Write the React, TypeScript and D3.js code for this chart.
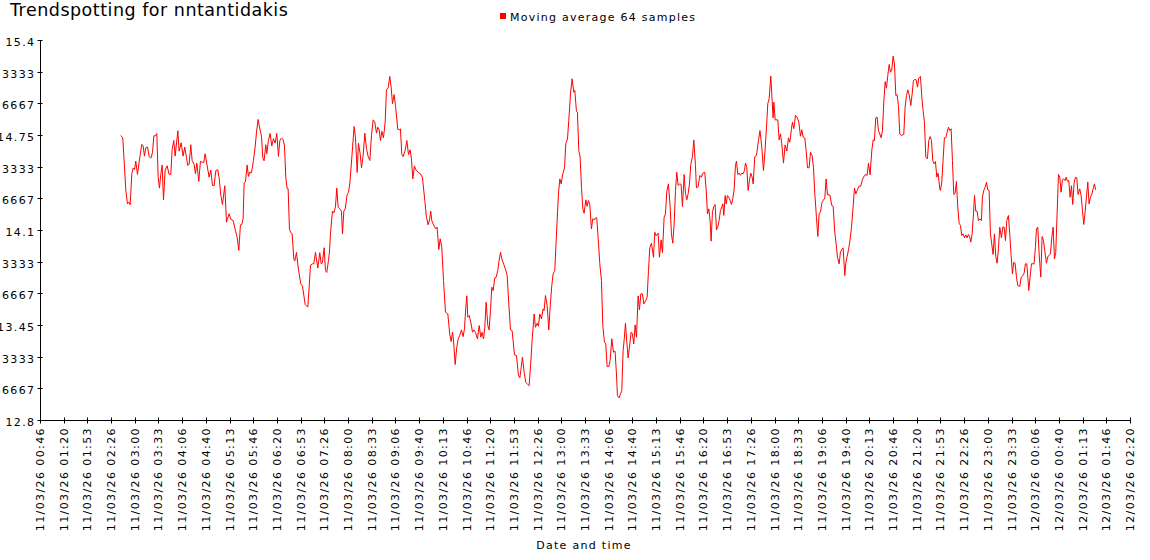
import React from "react";
import * as d3 from "d3";

const TITLE = "Trendspotting for nntantidakis";
const SERIES_NAME = "Moving average 64 samples";
const X_TITLE = "Date and time";

// x axis: minutes since 11/03/26 00:00
const X_START = 46.7;
const X_END = 1580.8;
const xTickLabels = [
  "11/03/26 00:46", "11/03/26 01:20", "11/03/26 01:53", "11/03/26 02:26", "11/03/26 03:00",
  "11/03/26 03:33", "11/03/26 04:06", "11/03/26 04:40", "11/03/26 05:13", "11/03/26 05:46",
  "11/03/26 06:20", "11/03/26 06:53", "11/03/26 07:26", "11/03/26 08:00", "11/03/26 08:33",
  "11/03/26 09:06", "11/03/26 09:40", "11/03/26 10:13", "11/03/26 10:46", "11/03/26 11:20",
  "11/03/26 11:53", "11/03/26 12:26", "11/03/26 13:00", "11/03/26 13:33", "11/03/26 14:06",
  "11/03/26 14:40", "11/03/26 15:13", "11/03/26 15:46", "11/03/26 16:20", "11/03/26 16:53",
  "11/03/26 17:26", "11/03/26 18:00", "11/03/26 18:33", "11/03/26 19:06", "11/03/26 19:40",
  "11/03/26 20:13", "11/03/26 20:46", "11/03/26 21:20", "11/03/26 21:53", "11/03/26 22:26",
  "11/03/26 23:00", "11/03/26 23:33", "12/03/26 00:06", "12/03/26 00:40", "12/03/26 01:13",
  "12/03/26 01:46", "12/03/26 02:20",
];

const Y_MIN = 12.8;
const Y_MAX = 15.4;
const yTickValues = [
  12.8, 13.0166667, 13.2333333, 13.45, 13.6666667, 13.8833333, 14.1,
  14.3166667, 14.5333333, 14.75, 14.9666667, 15.1833333, 15.4,
];
const yTickLabels = [
  "12.8", "13.016666666667", "13.233333333333", "13.45", "13.666666666667",
  "13.883333333333", "14.1", "14.316666666667", "14.533333333333", "14.75",
  "14.966666666667", "15.183333333333", "15.4",
];

// [minutes since 11/03/26 00:00, moving average value]
const samples: [number, number][] = [
  [159.7, 14.750], [162.5, 14.734], [166.8, 14.374], [169.1, 14.283], [171.0, 14.294], [172.9, 14.276],
  [175.2, 14.488], [177.1, 14.527], [179.0, 14.516], [180.8, 14.575], [183.2, 14.484], [185.5, 14.568],
  [189.3, 14.689], [191.2, 14.678], [193.0, 14.609], [194.9, 14.666], [197.3, 14.671], [199.6, 14.607],
  [202.0, 14.595], [204.3, 14.632], [206.2, 14.748], [208.5, 14.748], [210.4, 14.764], [212.3, 14.465],
  [214.1, 14.390], [216.0, 14.484], [217.9, 14.548], [219.8, 14.310], [222.1, 14.511], [224.9, 14.543],
  [227.7, 14.484], [230.1, 14.484], [232.0, 14.655], [234.3, 14.716], [236.2, 14.609], [240.0, 14.782],
  [241.8, 14.643], [244.6, 14.700], [247.4, 14.609], [249.8, 14.671], [252.1, 14.598], [254.0, 14.545],
  [255.9, 14.554], [258.2, 14.687], [260.1, 14.579], [262.9, 14.552], [264.8, 14.488], [266.7, 14.561],
  [269.5, 14.436], [271.8, 14.573], [274.7, 14.566], [276.5, 14.566], [278.4, 14.625], [281.2, 14.545],
  [284.0, 14.465], [286.4, 14.513], [288.7, 14.408], [291.1, 14.408], [293.4, 14.509], [296.2, 14.516],
  [298.1, 14.461], [300.5, 14.340], [302.8, 14.278], [306.1, 14.406], [308.4, 14.157], [312.2, 14.215],
  [314.5, 14.176], [317.8, 14.169], [321.1, 14.100], [323.4, 14.055], [325.8, 13.964], [328.1, 14.139],
  [330.0, 14.141], [331.9, 14.183], [333.3, 14.427], [335.2, 14.433], [337.5, 14.548], [339.4, 14.470],
  [341.3, 14.500], [343.6, 14.495], [346.4, 14.579], [348.8, 14.671], [350.7, 14.773], [353.0, 14.860],
  [354.9, 14.808], [357.7, 14.744], [359.6, 14.598], [361.4, 14.577], [363.8, 14.687], [365.2, 14.625],
  [367.5, 14.716], [369.9, 14.764], [372.2, 14.678], [374.6, 14.728], [376.9, 14.698], [379.3, 14.764],
  [381.6, 14.607], [383.5, 14.716], [385.8, 14.732], [388.2, 14.723], [390.1, 14.678], [391.9, 14.465],
  [393.8, 14.386], [395.2, 14.386], [397.1, 14.107], [399.0, 14.085], [400.9, 14.078], [403.2, 13.904],
  [404.6, 13.891], [407.0, 13.950], [409.3, 13.850], [413.0, 13.735], [415.4, 13.720], [419.2, 13.594],
  [422.9, 13.576], [424.8, 13.713], [426.7, 13.863], [429.5, 13.872], [431.4, 13.872], [433.7, 13.950],
  [437.0, 13.843], [439.8, 13.948], [441.7, 13.872], [443.5, 13.879], [445.9, 13.982], [447.8, 13.827],
  [449.6, 13.813], [452.0, 13.895], [453.4, 13.952], [454.8, 14.078], [457.6, 14.233], [459.5, 14.221],
  [461.8, 14.260], [463.7, 14.390], [465.6, 14.260], [467.9, 14.249],
  [470.3, 14.232], [471.7, 14.077], [473.6, 14.232], [475.5, 14.248], [478.3, 14.346], [480.2, 14.362],
  [482.0, 14.419], [484.9, 14.602], [488.1, 14.811], [490.0, 14.738], [492.4, 14.497], [494.2, 14.697],
  [496.6, 14.624], [498.5, 14.529], [500.8, 14.613], [503.2, 14.766], [505.5, 14.659], [507.8, 14.608],
  [510.2, 14.579], [512.5, 14.750], [514.9, 14.857], [517.2, 14.841], [519.6, 14.766], [521.4, 14.807],
  [523.3, 14.791], [525.2, 14.716], [527.1, 14.779], [529.4, 14.734], [531.8, 14.841], [533.6, 15.062],
  [536.0, 15.076], [538.3, 15.154], [540.2, 15.081], [542.1, 14.967], [544.4, 15.030], [546.3, 14.955],
  [549.6, 14.791], [551.9, 14.789], [553.3, 14.795], [555.2, 14.620], [557.1, 14.606], [559.9, 14.647],
  [562.3, 14.716], [564.6, 14.620], [566.9, 14.652], [568.8, 14.590], [570.7, 14.453], [573.0, 14.542],
  [574.9, 14.515], [578.2, 14.499], [581.5, 14.487], [584.3, 14.460], [587.6, 14.305], [589.9, 14.191],
  [592.3, 14.139], [594.2, 14.173], [596.0, 14.232], [597.4, 14.168], [600.3, 14.134], [603.1, 14.111],
  [604.9, 14.123], [607.3, 13.970], [609.2, 14.043], [611.5, 13.986], [613.9, 13.758], [616.7, 13.541],
  [620.0, 13.529], [622.8, 13.386], [624.7, 13.340], [626.5, 13.404], [627.9, 13.358], [630.3, 13.183],
  [632.6, 13.301], [634.5, 13.358], [636.8, 13.383], [639.2, 13.420], [641.5, 13.374], [643.4, 13.427],
  [645.3, 13.575], [646.7, 13.653], [648.1, 13.507], [650.0, 13.518], [652.8, 13.461], [654.7, 13.404],
  [656.6, 13.420], [658.9, 13.404], [661.7, 13.358], [664.1, 13.450], [666.4, 13.370], [668.3, 13.404],
  [670.2, 13.358], [672.0, 13.438], [673.9, 13.609], [676.3, 13.450], [678.1, 13.420], [680.0, 13.552],
  [681.9, 13.712], [683.8, 13.689], [686.1, 13.776], [688.0, 13.780], [690.3, 13.826], [692.2, 13.894],
  [694.1, 13.951], [696.4, 13.899], [698.8, 13.867], [701.6, 13.826], [703.5, 13.792], [705.8, 13.598],
  [708.2, 13.420], [710.5, 13.415], [713.8, 13.249], [716.6, 13.244], [719.4, 13.108], [721.3, 13.092],
  [722.7, 13.142], [725.0, 13.233], [727.4, 13.130], [729.7, 13.062], [732.5, 13.046], [734.4, 13.039],
  [736.3, 13.165], [738.6, 13.347], [741.5, 13.529], [743.3, 13.438], [745.7, 13.466], [747.5, 13.445],
  [749.4, 13.529], [751.8, 13.495], [754.1, 13.564], [755.5, 13.552], [757.4, 13.655], [759.8, 13.587],
  [762.1, 13.420], [764.0, 13.575], [766.3, 13.723], [768.2, 13.803], [770.5, 13.826], [772.9, 14.077],
  [775.7, 14.351], [777.6, 14.453], [779.5, 14.419], [781.8, 14.488], [784.2, 14.529], [786.0, 14.693],
  [788.4, 14.727], [790.2, 14.852], [792.6, 15.035], [794.9, 15.138], [797.3, 15.046], [798.7, 15.058],
  [801.0, 14.916], [802.4, 14.909], [804.3, 14.647], [806.2, 14.602],
  [808.1, 14.396], [810.0, 14.248], [811.8, 14.218], [814.2, 14.310], [816.0, 14.266], [817.9, 14.305],
  [819.8, 14.278], [822.1, 14.111], [824.0, 14.180], [826.4, 14.173], [828.2, 14.187], [829.6, 14.187],
  [831.5, 14.054], [833.9, 13.872], [836.2, 13.758], [838.1, 13.450], [840.4, 13.336], [842.3, 13.324],
  [844.2, 13.169], [846.5, 13.169], [848.4, 13.210], [850.8, 13.359], [853.1, 13.267], [855.4, 13.274],
  [857.3, 13.119], [858.7, 12.971], [861.1, 12.955], [863.0, 12.982], [864.8, 13.005], [866.7, 13.279],
  [868.1, 13.347], [870.0, 13.466], [871.9, 13.336], [873.7, 13.228], [876.1, 13.324], [878.0, 13.404],
  [879.8, 13.393], [881.7, 13.324], [883.6, 13.454], [885.5, 13.370], [887.8, 13.653], [889.7, 13.557],
  [891.6, 13.666], [893.9, 13.666], [895.8, 13.598], [898.6, 13.621], [900.5, 13.644], [902.4, 13.826],
  [904.2, 13.981], [906.6, 14.013], [909.4, 13.917], [911.3, 14.088], [913.1, 14.063], [916.0, 14.082],
  [917.8, 13.917], [920.2, 14.036], [922.1, 13.949], [924.4, 14.191], [926.3, 14.214], [928.2, 14.369],
  [930.5, 14.419], [932.9, 14.260], [934.7, 14.077], [936.6, 14.013], [938.5, 14.145], [940.4, 14.374],
  [942.2, 14.499], [944.1, 14.408], [946.5, 14.419], [948.3, 14.415], [950.2, 14.264], [952.6, 14.483],
  [954.4, 14.355], [956.3, 14.310], [958.2, 14.351], [960.1, 14.419], [961.9, 14.551], [964.3, 14.606],
  [966.2, 14.720], [968.5, 14.545], [969.9, 14.392], [972.3, 14.401], [974.6, 14.476], [977.0, 14.465],
  [978.8, 14.492], [981.6, 14.499], [983.5, 14.385], [985.4, 14.214], [987.3, 14.248], [989.1, 14.168],
  [990.6, 14.027], [992.4, 14.225], [994.3, 14.264], [996.2, 14.278], [998.1, 14.104], [999.9, 14.123],
  [1001.8, 14.168], [1003.7, 14.237], [1005.6, 14.260], [1007.0, 14.282], [1008.4, 14.203], [1010.3, 14.339],
  [1011.7, 14.282], [1013.5, 14.339], [1015.4, 14.328], [1017.3, 14.305], [1019.2, 14.278], [1021.0, 14.317],
  [1022.9, 14.378], [1024.8, 14.545], [1026.2, 14.574], [1028.1, 14.483], [1030.0, 14.492], [1031.8, 14.478],
  [1033.7, 14.492], [1035.6, 14.488], [1037.5, 14.510], [1038.9, 14.561], [1040.8, 14.529], [1042.6, 14.374],
  [1044.5, 14.442], [1046.4, 14.492], [1048.3, 14.465], [1049.7, 14.419], [1052.0, 14.606], [1054.4, 14.613],
  [1057.2, 14.716], [1059.3, 14.784],
  [1061.9, 14.670], [1064.2, 14.510], [1066.1, 14.624], [1068.5, 14.807], [1070.3, 14.967], [1072.2, 15.001],
  [1074.6, 15.156], [1076.4, 14.989], [1077.8, 14.871], [1078.8, 14.978], [1080.7, 14.857], [1084.4, 14.857],
  [1086.3, 14.720], [1088.2, 14.761], [1090.0, 14.693], [1092.4, 14.561], [1094.7, 14.686], [1097.1, 14.643],
  [1099.4, 14.734], [1101.3, 14.704], [1103.6, 14.796], [1105.0, 14.841], [1106.9, 14.796], [1109.3, 14.887],
  [1111.6, 14.875], [1114.0, 14.841], [1116.3, 14.745], [1118.2, 14.789], [1120.1, 14.739], [1122.4, 14.732],
  [1124.3, 14.647], [1126.2, 14.529], [1128.5, 14.529], [1130.4, 14.636], [1132.7, 14.613], [1134.6, 14.533],
  [1136.5, 14.351], [1138.8, 14.191], [1140.7, 14.059], [1142.6, 14.218], [1144.5, 14.225], [1146.3, 14.287],
  [1148.2, 14.305], [1150.6, 14.323], [1152.4, 14.453], [1154.3, 14.344], [1157.6, 14.344], [1160.4, 14.271],
  [1162.3, 14.266], [1164.6, 14.088], [1166.5, 14.009], [1168.4, 13.917], [1170.7, 13.872], [1172.6, 13.952],
  [1174.5, 13.970], [1176.3, 13.981], [1178.7, 13.792], [1180.1, 13.876], [1182.0, 13.922], [1183.9, 13.968],
  [1185.7, 14.020], [1188.1, 14.123], [1190.4, 14.260], [1192.3, 14.390], [1194.2, 14.351], [1196.5, 14.378],
  [1198.4, 14.403], [1201.2, 14.403], [1203.1, 14.442], [1205.0, 14.465], [1207.8, 14.483], [1210.1, 14.476],
  [1212.0, 14.561], [1214.3, 14.481], [1216.7, 14.647], [1218.6, 14.720], [1220.4, 14.716], [1222.3, 14.871],
  [1224.2, 14.875], [1226.1, 14.784], [1227.9, 14.761], [1229.8, 14.734], [1231.7, 14.784], [1233.6, 14.978],
  [1235.5, 15.119], [1237.3, 15.074], [1239.2, 15.160], [1241.1, 15.236], [1243.0, 15.183], [1244.8, 15.199],
  [1246.7, 15.293], [1248.6, 15.240], [1250.5, 15.024], [1252.3, 15.030], [1254.2, 14.955], [1256.1, 14.761],
  [1258.0, 14.750], [1259.9, 14.754], [1261.7, 14.757], [1263.6, 14.944], [1265.5, 15.024], [1267.4, 15.062],
  [1269.2, 15.030], [1271.6, 14.955], [1273.5, 15.035], [1275.3, 15.126], [1277.2, 15.133], [1279.1, 15.131],
  [1281.0, 15.081], [1282.8, 15.142], [1285.2, 15.154], [1287.1, 15.012], [1288.9, 14.921], [1290.8, 14.841],
  [1292.7, 14.602], [1295.0, 14.590], [1296.9, 14.716], [1298.8, 14.743], [1300.7, 14.716], [1302.5, 14.579],
  [1304.4, 14.556], [1306.3, 14.572], [1308.2, 14.465], [1310.0, 14.492], [1312.4, 14.385],
  [1313.3, 14.374], [1315.2, 14.431], [1317.1, 14.590], [1318.9, 14.734], [1320.8, 14.734], [1322.7, 14.773],
  [1324.6, 14.807], [1326.5, 14.784], [1328.3, 14.796], [1330.2, 14.579], [1332.1, 14.346], [1334.0, 14.355],
  [1335.8, 14.435], [1337.7, 14.260], [1339.6, 14.150], [1341.5, 14.134], [1343.3, 14.066], [1345.2, 14.077],
  [1347.1, 14.050], [1349.0, 14.070], [1350.8, 14.050], [1352.7, 14.073], [1354.6, 14.054], [1356.0, 14.020],
  [1357.9, 14.077], [1359.8, 14.214], [1361.2, 14.339], [1363.0, 14.232], [1364.9, 14.232], [1366.8, 14.168],
  [1368.7, 14.180], [1371.0, 14.168], [1372.4, 14.328], [1374.3, 14.374], [1376.2, 14.396], [1378.1, 14.431],
  [1379.9, 14.378], [1381.8, 14.374], [1383.7, 14.077], [1385.6, 14.004], [1387.4, 13.936], [1389.3, 14.077],
  [1391.2, 13.922], [1393.1, 13.876], [1394.9, 13.974], [1396.8, 14.123], [1399.2, 14.050], [1401.0, 14.123],
  [1402.9, 14.123], [1404.8, 14.031], [1406.7, 14.168], [1409.0, 14.203], [1410.9, 14.073], [1412.8, 13.929],
  [1414.6, 13.803], [1416.5, 13.883], [1418.4, 13.876], [1420.3, 13.781], [1422.1, 13.724], [1425.0, 13.717],
  [1426.8, 13.776], [1429.2, 13.792], [1431.1, 13.808], [1432.9, 13.872], [1434.8, 13.872], [1436.7, 13.758],
  [1437.6, 13.689], [1439.5, 13.781], [1441.4, 13.872], [1445.1, 13.872], [1447.0, 13.990], [1448.4, 14.111],
  [1450.3, 14.123], [1452.2, 13.940], [1454.5, 13.781], [1456.4, 14.059], [1458.3, 14.031], [1460.1, 13.963],
  [1462.5, 13.876], [1464.4, 13.922], [1466.2, 13.929], [1468.1, 13.940], [1470.0, 14.050], [1471.9, 14.123],
  [1473.8, 13.906], [1475.6, 13.949], [1477.5, 14.214], [1479.4, 14.483], [1481.3, 14.465], [1483.1, 14.362],
  [1485.0, 14.447], [1486.9, 14.453], [1488.8, 14.442], [1490.2, 14.465], [1492.0, 14.437], [1493.9, 14.442],
  [1495.8, 14.328], [1497.7, 14.406], [1499.5, 14.278], [1501.4, 14.424], [1503.3, 14.465], [1505.2, 14.460],
  [1507.0, 14.346], [1509.4, 14.385], [1511.3, 14.339], [1513.2, 14.237], [1515.0, 14.141], [1516.9, 14.225],
  [1518.8, 14.328], [1520.7, 14.431], [1522.5, 14.282], [1524.4, 14.328], [1526.3, 14.346], [1528.2, 14.385],
  [1530.0, 14.419], [1531.9, 14.378],
];

const FONT = "'DejaVu Sans', Verdana, sans-serif";

export default function App() {
  const W = 1150;
  const H = 560;
  const left = 40.5;
  const right = 1130.5;
  const top = 40.5;
  const bottom = 420.5;

  const x = d3.scaleLinear().domain([X_START, X_END]).range([left, right]);
  const y = d3.scaleLinear().domain([Y_MIN, Y_MAX]).range([bottom, top]);
  const line = d3
    .line<[number, number]>()
    .x((d) => x(d[0]))
    .y((d) => y(d[1]));

  const crisp = (v: number) => Math.round(v - 0.5) + 0.5;
  const xStep = (X_END - X_START) / (xTickLabels.length - 1);

  return (
    <svg
      width={W}
      height={H}
      style={{ position: "absolute", left: 0, top: 0, background: "#fff" }}
      fontFamily={FONT}
    >
      <text x={10} y={16} fontSize={17.5} letterSpacing={0.5} fill="#000">
        {TITLE}
      </text>

      <rect x={500} y={13} width={6} height={6} fill="#ff0000" />
      <text x={510} y={21} fontSize={11} letterSpacing={1.25} fill="#000">
        {SERIES_NAME}
      </text>

      {/* y axis */}
      <line x1={left} x2={left} y1={top} y2={bottom} stroke="#000" />
      {yTickValues.map((v, i) => {
        const yy = crisp(y(v));
        return (
          <g key={"y" + i}>
            <line x1={left - 3} x2={left + 2} y1={yy} y2={yy} stroke="#000" />
            <text
              x={35.5}
              y={yy + 5.5}
              fontSize={11}
              letterSpacing={1.4}
              textAnchor="end"
              fill="#000"
            >
              {yTickLabels[i]}
            </text>
          </g>
        );
      })}

      {/* x axis */}
      <line x1={left} x2={right} y1={bottom} y2={bottom} stroke="#000" />
      {xTickLabels.map((lab, i) => {
        const xx = crisp(x(X_START + i * xStep));
        return (
          <g key={"x" + i}>
            <line x1={xx} x2={xx} y1={bottom - 3} y2={bottom + 3} stroke="#000" />
            <text
              transform={`translate(${xx},427) rotate(-90)`}
              fontSize={11}
              letterSpacing={1.4}
              textAnchor="end"
              dy="0.3em"
              fill="#000"
            >
              {lab}
            </text>
          </g>
        );
      })}

      <text
        x={584}
        y={549}
        fontSize={11}
        letterSpacing={1.3}
        textAnchor="middle"
        fill="#000"
      >
        {X_TITLE}
      </text>

      <path d={line(samples) || ""} fill="none" stroke="#ff0000" strokeWidth={1} />
    </svg>
  );
}
